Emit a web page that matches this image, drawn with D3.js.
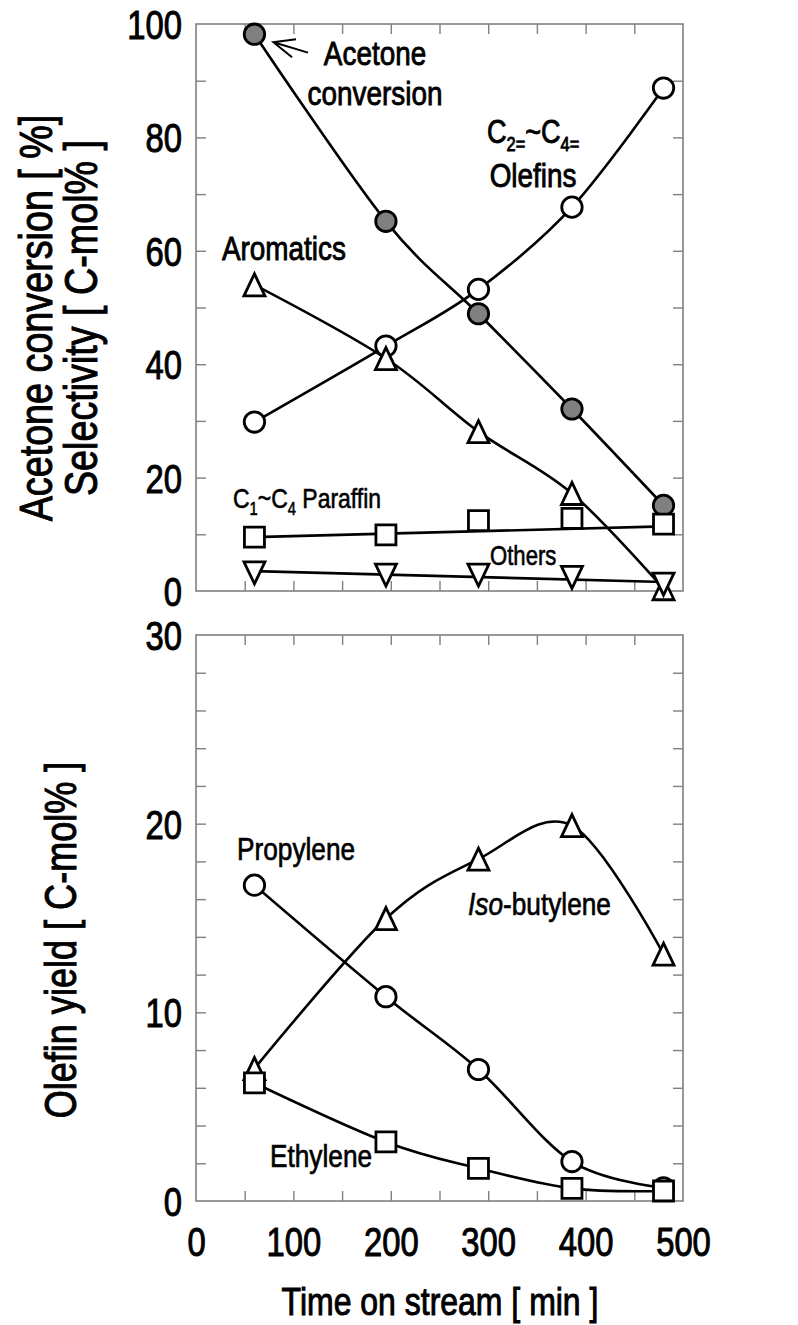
<!DOCTYPE html>
<html>
<head>
<meta charset="utf-8">
<script src="https://cdn.jsdelivr.net/npm/d3@7"></script>
<style>
  body { margin: 0; background: #fff; }
</style>
</head>
<body>
<svg id="chart" width="798" height="1325"></svg>
<script>
// time on stream [min]
const timeMin = [60, 195, 290, 386, 480]

// top panel: conversion / selectivity
const acetoneConv = [98.2, 65.2, 48.9, 32.1, 15.1]
const olefinSel = [29.8, 43.2, 53.2, 67.7, 88.7]
const aromaticSel = [54.0, 41.0, 28.1, 17.2, 0.4]
const paraffinSel = [9.5, 9.9, 12.4, 12.8, 11.8]
const othersSel = [3.2, 2.8, 2.8, 2.4, 1.2]
// straight trend lines drawn through paraffin / others
const fitTime = [60, 480]
const paraffinFit = [9.5, 11.4]
const othersFit = [3.5, 1.6]

// bottom panel: olefin yield
const propyleneYield = [16.74, 10.83, 6.97, 2.09, 0.7]
const isoButyleneYield = [7.02, 14.97, 18.12, 19.9, 13.08]
const ethyleneYield = [6.26, 3.13, 1.73, 0.67, 0.53]

const xTickLabels = [0, 100, 200, 300, 400, 500]
const topYTickLabels = [0, 20, 40, 60, 80, 100]
const bottomYTickLabels = [0, 10, 20, 30]

// pick a narrow font if there is one, otherwise squeeze Liberation Sans
let fontExists = (name) => {
  let ctx = document.createElement("canvas").getContext("2d")
  ctx.font = "40px monospace"
  let base = ctx.measureText("Acetone conversion").width
  ctx.font = `40px "${name}", monospace`
  return ctx.measureText("Acetone conversion").width !== base
}
let narrow = fontExists("Liberation Sans Narrow")
const FONT = narrow ? '"Liberation Sans Narrow", "Arial Narrow", sans-serif' : '"Liberation Sans", Arial, sans-serif'
const SX = narrow ? 1 : 0.82

const GRAY = "#808080"
let svg = d3.select("#chart")

let x = d3.scaleLinear().domain([0, 500]).range([196, 683])
let yTop = d3.scaleLinear().domain([0, 100]).range([591, 24])
let yBot = d3.scaleLinear().domain([0, 30]).range([1201, 635])

// text a bit heavier than the plain regular face
let label = (x0, y0, size, rot, weight) => svg.append("text")
  .attr("transform", `translate(${x0},${y0}) rotate(${rot || 0}) scale(${SX},1)`)
  .attr("font-family", FONT)
  .attr("font-size", size)
  .attr("fill", "#000")
  .attr("stroke", "#000")
  .attr("stroke-width", weight || 0.6)

let shape = (type) => {
  if (type === "circle") return d3.symbol(d3.symbolCircle, Math.PI * 10.2 * 10.2)()
  if (type === "square") return d3.symbol(d3.symbolSquare, 20 * 20)()
  let w = 21, h = 22
  if (type === "up") return `M0,${-h / 2}L${w / 2},${h / 2}L${-w / 2},${h / 2}Z`
  return `M0,${h / 2}L${w / 2},${-h / 2}L${-w / 2},${-h / 2}Z`
}

let drawFrame = (y, minorY) => {
  let [b, t] = y.range()
  svg.append("rect")
    .attr("x", x(0)).attr("y", t)
    .attr("width", x(500) - x(0)).attr("height", b - t)
    .attr("fill", "none").attr("stroke", GRAY).attr("stroke-width", 1.6)

  let minorX = d3.range(50, 500, 50)
  let axes = [
    [d3.axisBottom(x).tickValues(minorX), `translate(0,${b})`],
    [d3.axisTop(x).tickValues(minorX), `translate(0,${t})`],
    [d3.axisLeft(y).tickValues(minorY), `translate(${x(0)},0)`],
    [d3.axisRight(y).tickValues(minorY), `translate(${x(500)},0)`]
  ]
  axes.forEach(([axis, tr]) => {
    svg.append("g")
      .attr("transform", tr)
      .call(axis.tickSize(-10).tickFormat(""))
      .call(g => g.select(".domain").remove())
      .selectAll("line").attr("stroke", GRAY).attr("stroke-width", 1.4)
  })
}

let drawYLabels = (y, values) => {
  svg.append("g")
    .attr("transform", `translate(${x(0)},0)`)
    .call(d3.axisLeft(y).tickValues(values).tickSize(0).tickPadding(14))
    .call(g => g.select(".domain").remove())
    .selectAll("text")
    .attr("font-family", FONT).attr("font-size", 40).attr("fill", "#000")
    .attr("stroke", "#000").attr("stroke-width", 1)
    .attr("transform", `scale(${SX},1)`)
    .attr("x", -14 / SX)
    .attr("dy", "0.36em")
}

let drawSeries = (y, values, marker, fill, lineVals, lineTimes, curve) => {
  let line = d3.line()
    .x((d, i) => x(lineTimes[i]))
    .y(d => y(d))
    .curve(curve)
  svg.append("path")
    .attr("d", line(lineVals))
    .attr("fill", "none").attr("stroke", "#000").attr("stroke-width", 2.6)
  svg.append("g").selectAll("path")
    .data(values)
    .enter()
    .append("path")
    .attr("d", shape(marker))
    .attr("transform", (d, i) => `translate(${x(timeMin[i])},${y(d)})`)
    .attr("fill", fill).attr("stroke", "#000").attr("stroke-width", 2.8)
}

let smooth = d3.curveCardinal.tension(0)

// ---------- top panel ----------
drawFrame(yTop, d3.range(10, 100, 10))
drawYLabels(yTop, topYTickLabels)

drawSeries(yTop, acetoneConv, "circle", GRAY, acetoneConv, timeMin, smooth)
drawSeries(yTop, olefinSel, "circle", "#fff", olefinSel, timeMin, smooth)
drawSeries(yTop, aromaticSel, "up", "#fff", aromaticSel, timeMin, smooth)
drawSeries(yTop, othersSel, "down", "#fff", othersFit, fitTime, d3.curveLinear)
drawSeries(yTop, paraffinSel, "square", "#fff", paraffinFit, fitTime, d3.curveLinear)

// arrow to the acetone point
let tipX = x(timeMin[0]) + 19, tipY = yTop(acetoneConv[0]) + 8
svg.append("path")
  .attr("d", `M${tipX + 34.6},${tipY + 10.4}L${tipX},${tipY}M${tipX + 22.6},${tipY - 3}L${tipX},${tipY}L${tipX + 18.6},${tipY + 15}`)
  .attr("fill", "none").attr("stroke", "#000").attr("stroke-width", 2)

label(375, 65, 34, 0, 0.9).attr("text-anchor", "middle").text("Acetone")
label(375, 105, 34, 0, 0.9).attr("text-anchor", "middle").text("conversion")

let olef = label(487, 143, 33, 0, 0.9)
olef.append("tspan").text("C")
olef.append("tspan").attr("font-size", 20).attr("dy", 8).text("2=")
olef.append("tspan").attr("dy", -8).text("~C")
olef.append("tspan").attr("font-size", 20).attr("dy", 8).text("4=")
label(533, 187, 34, 0, 0.9).attr("text-anchor", "middle").text("Olefins")

label(222, 260, 34, 0, 0.9).text("Aromatics")

let par = label(233, 508, 28)
par.append("tspan").text("C")
par.append("tspan").attr("font-size", 18).attr("dy", 7).text("1")
par.append("tspan").attr("dy", -7).text("~C")
par.append("tspan").attr("font-size", 18).attr("dy", 7).text("4")
par.append("tspan").attr("dy", -7).text(" Paraffin")

label(490, 565, 27).text("Others")

label(52, 318, 46, -90, 1).attr("text-anchor", "middle").text("Acetone conversion [ %]")
label(97, 318, 46, -90, 1).attr("text-anchor", "middle").text("Selectivity [ C-mol% ]")

// ---------- bottom panel ----------
drawFrame(yBot, d3.range(2, 30, 2))
drawYLabels(yBot, bottomYTickLabels)

drawSeries(yBot, propyleneYield, "circle", "#fff", propyleneYield, timeMin, smooth)
drawSeries(yBot, isoButyleneYield, "up", "#fff", isoButyleneYield, timeMin, smooth)
drawSeries(yBot, ethyleneYield, "square", "#fff", ethyleneYield, timeMin, smooth)

label(237, 860, 32, 0, 0.7).text("Propylene")
let iso = label(468, 915, 32, 0, 0.7)
iso.append("tspan").attr("font-style", "italic").text("Iso")
iso.append("tspan").text("-butylene")
label(270, 1167, 32, 0, 0.7).text("Ethylene")

svg.append("g")
  .attr("transform", `translate(0,${yBot(0)})`)
  .call(d3.axisBottom(x).tickValues(xTickLabels).tickSize(0).tickPadding(27))
  .call(g => g.select(".domain").remove())
  .selectAll("text")
  .attr("font-family", FONT).attr("font-size", 40).attr("fill", "#000")
  .attr("stroke", "#000").attr("stroke-width", 1)
  .attr("transform", `scale(${SX},1)`)
  .attr("x", 0)

label(76, 940, 44, -90, 1).attr("text-anchor", "middle").text("Olefin yield [ C-mol% ]")
label(440, 1315, 39, 0, 1).attr("text-anchor", "middle").text("Time on stream [ min ]")
</script>
</body>
</html>
